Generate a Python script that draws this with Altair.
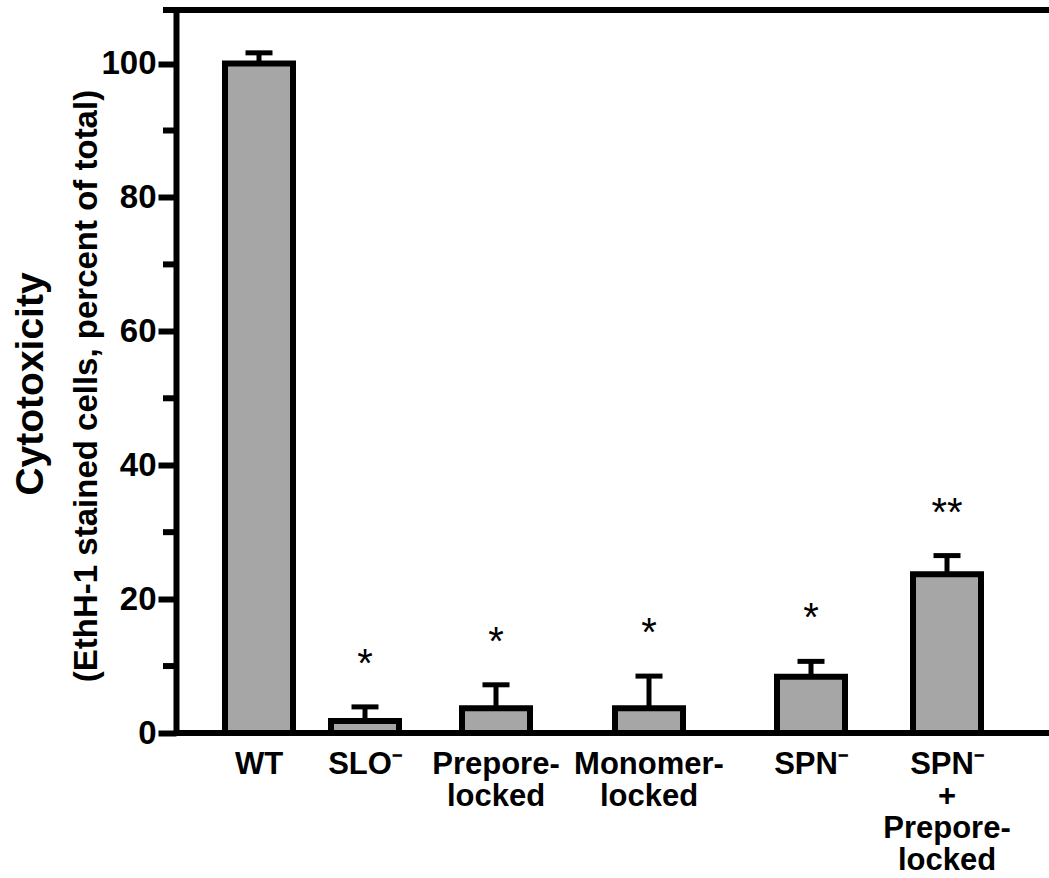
import altair as alt
import pandas as pd

categories = ["WT", "SLO⁻", "Prepore-\nlocked", "Monomer-\nlocked", "SPN⁻", "SPN⁻\n+\nPrepore-\nlocked"]
means = [100.0, 1.8, 3.7, 3.7, 8.4, 23.7]
errors = [1.6, 2.1, 3.5, 4.8, 2.3, 2.8]
stars = ["", "*", "*", "*", "*", "**"]
major_ticks = [0, 20, 40, 60, 80, 100]
minor_ticks = [10, 30, 50, 70, 90]

df = pd.DataFrame({
    "label": categories,
    "value": means,
    "err": errors,
    "star": stars,
    "idx": list(range(1, len(categories) + 1)),
})
df_minor = pd.DataFrame({"v": minor_ticks})

W, H = 873, 723
SANS = "Liberation Sans, Arial, sans-serif"

xscale = alt.Scale(domain=[0, 1, 2, 3, 4, 5, 6, 7],
                   range=[0, 83, 189, 320, 473, 635, 771, W], nice=False, zero=False)
yscale = alt.Scale(domain=[0, 108], nice=False)
yaxis = alt.Axis(values=major_ticks, title=None, grid=False, domainColor="black",
                 domainWidth=6, tickColor="black", tickWidth=6, tickSize=18,
                 labelPadding=2, labelFont=SANS, labelFontSize=33,
                 labelFontWeight="bold", labelColor="black")

base = alt.Chart(df).transform_calculate(upper="datum.value + datum.err")

X = alt.X("idx:Q", scale=xscale, axis=None)

err_rule = base.mark_rule(strokeWidth=5, color="black").encode(
    x=X,
    y=alt.Y("value:Q", scale=yscale, axis=yaxis),
    y2="upper:Q",
)
caps = base.mark_tick(orient="horizontal", size=27, thickness=5, color="black", opacity=1).encode(
    x=X,
    y=alt.Y("upper:Q", scale=yscale, axis=yaxis),
)
bars = base.mark_bar(size=68, fill="#a6a6a6", stroke="black", strokeWidth=6).encode(
    x=X,
    y=alt.Y("value:Q", scale=yscale, axis=yaxis),
)
star_text = base.mark_text(font=SANS, fontSize=40, dy=-30, baseline="alphabetic",
                           align="center", color="black").encode(
    x=X,
    y=alt.Y("upper:Q", scale=yscale, axis=yaxis),
    text="star:N",
)
xlabels = base.mark_text(font=SANS, fontSize=31, fontWeight="bold", lineBreak="\n",
                         lineHeight=32, baseline="alphabetic", align="center",
                         color="black").encode(
    x=X,
    y=alt.value(764),
    text="label:N",
)
minor = alt.Chart(df_minor).mark_rule(strokeWidth=6, color="black").encode(
    y=alt.Y("v:Q", scale=yscale, axis=yaxis),
    x=alt.value(-13),
    x2=alt.value(0),
)
one = alt.Data(values=[{}])
top_line = alt.Chart(one).mark_rule(strokeWidth=6, color="black").encode(
    x=alt.value(-13), x2=alt.value(W), y=alt.value(0))
bottom_line = alt.Chart(one).mark_rule(strokeWidth=6, color="black").encode(
    x=alt.value(0), x2=alt.value(W), y=alt.value(H))
title1 = alt.Chart(one).mark_text(text="Cytotoxicity", font=SANS, fontSize=39,
                                  fontWeight="bold", angle=270, align="center",
                                  baseline="alphabetic", color="black").encode(
    x=alt.value(-133), y=alt.value(374))
title2 = alt.Chart(one).mark_text(text="(EthH-1 stained cells, percent of total)", font=SANS,
                                  fontSize=33, fontWeight="bold", angle=270, align="center",
                                  baseline="alphabetic", color="black").encode(
    x=alt.value(-79), y=alt.value(376))

chart = alt.layer(
    minor, err_rule, caps, bars, star_text, xlabels, top_line, bottom_line, title1, title2
).properties(
    width=W, height=H,
    autosize=alt.AutoSizeParams(type="none"),
    padding={"left": 176, "top": 10, "right": 0, "bottom": 145},
    background="white",
).configure_view(stroke=None)

chart.save("out.html", embed_options={"renderer": "svg", "actions": False})
